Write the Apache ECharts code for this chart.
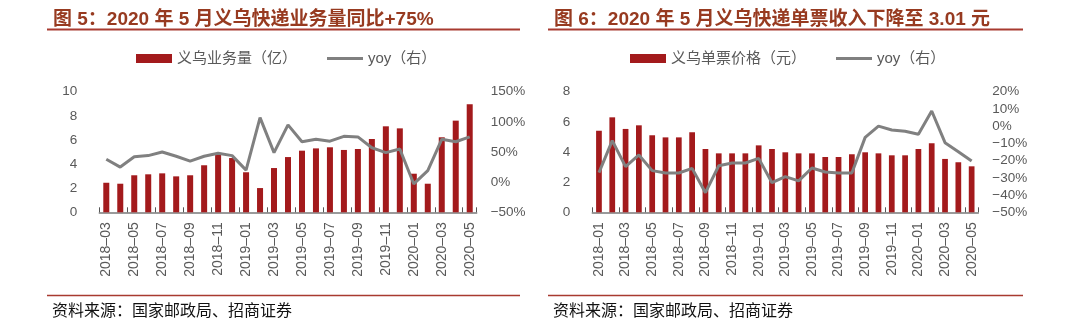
<!DOCTYPE html>
<html>
<head>
<meta charset="utf-8">
<script src="https://cdn.jsdelivr.net/npm/echarts@6/dist/echarts.min.js"></script>
<style>
html,body{margin:0;padding:0;background:#fff;}
#c{width:1080px;height:326px;}
</style>
</head>
<body>
<div id="c"></div>
<script>
// ---- Chart 5 data ----
const monthsA = ['2018-03','2018-04','2018-05','2018-06','2018-07','2018-08','2018-09','2018-10','2018-11','2018-12',
  '2019-01','2019-02','2019-03','2019-04','2019-05','2019-06','2019-07','2019-08','2019-09','2019-10','2019-11','2019-12',
  '2020-01','2020-02','2020-03','2020-04','2020-05'];
const volume = [2.45,2.37,3.07,3.15,3.23,2.98,3.07,3.9,4.75,4.5,
  3.32,2.01,3.67,4.58,5.11,5.3,5.39,5.17,5.25,6.08,7.13,6.96,
  3.2,2.37,6.22,7.6,8.96];
const volumeYoy = [38,25,42,44,50,43,35,43,48,44,
  20,107,49,95,67,71,68,76,75,57,49,55,
  -3,19,71,67,75];
const titleA = '图 5：2020 年 5 月义乌快递业务量同比+75%';
const legendA = ['义乌业务量（亿）','yoy（右）'];

// ---- Chart 6 data ----
const monthsB = ['2018-01','2018-02','2018-03','2018-04','2018-05','2018-06','2018-07','2018-08','2018-09','2018-10','2018-11','2018-12',
  '2019-01','2019-02','2019-03','2019-04','2019-05','2019-06','2019-07','2019-08','2019-09','2019-10','2019-11','2019-12',
  '2020-01','2020-02','2020-03','2020-04','2020-05'];
const price = [5.41,6.3,5.53,5.77,5.11,4.97,4.97,5.31,4.2,3.91,3.91,3.91,
  4.44,4.2,3.98,3.91,3.91,3.67,3.67,3.85,3.98,3.91,3.78,3.78,
  4.2,4.58,3.54,3.32,3.05];
const priceYoy = [-27,-8.4,-23.5,-16.7,-25.8,-27.2,-27.2,-24.5,-38.6,-23,-21.4,-21.4,
  -18.7,-32.8,-29.3,-31.8,-24.3,-26.6,-27.2,-27.2,-6.5,0,-2.2,-3,
  -4.7,8.8,-9.6,-14.8,-20.2];
const titleB = '图 6：2020 年 5 月义乌快递单票收入下降至 3.01 元';
const legendB = ['义乌单票价格（元）','yoy（右）'];
const sourceText = '资料来源：国家邮政局、招商证券';

const RED = '#A31A1C';
const GREY = '#808080';
const LAB = '#595959';
const TITLE_C = '#973A20';
const LINE_C = '#A83A30';
const FONT = '"Liberation Sans", "Noto Sans CJK SC", sans-serif';
const LINE_ICON = 'path://M0,0 L36,0 L36,3 L0,3 Z';

const dash = v => String(v).replace(/-/g, '\u2212');

function xAxis(gi, data) {
  return {
    type: 'category', gridIndex: gi, data: data, boundaryGap: true,
    axisLine: {lineStyle: {color: '#7a7a7a', width: 1.5}},
    axisTick: {show: true, inside: true, length: 5, interval: 1, lineStyle: {color: '#555'}},
    axisLabel: {interval: 1, rotate: 90, margin: 10, color: LAB, fontSize: 14, fontFamily: FONT,
      formatter: v => v.replace('-', '\u2013')},
    splitLine: {show: false}
  };
}
function yAxis(gi, pos, min, max, interval, pct) {
  return {
    type: 'value', gridIndex: gi, position: pos, min: min, max: max, interval: interval,
    axisLine: {show: false}, axisTick: {show: false}, splitLine: {show: false},
    axisLabel: {color: LAB, fontSize: 13.5, fontFamily: FONT, margin: pos === 'left' ? 22 : 14,
      formatter: v => dash(v) + (pct ? '%' : '')}
  };
}

const chart = echarts.init(document.getElementById('c'), null, {renderer: 'canvas'});
chart.setOption({
  animation: false,
  backgroundColor: '#fff',
  title: [
    {text: titleA, left: 48, top: 5, textStyle: {color: TITLE_C, fontSize: 19, fontWeight: 'bold', fontFamily: FONT}},
    {text: titleB, left: 549, top: 5, textStyle: {color: TITLE_C, fontSize: 19, fontWeight: 'bold', fontFamily: FONT}},
    {text: sourceText, left: 47, top: 297, textStyle: {color: '#111', fontSize: 16, fontWeight: 'normal', fontFamily: '"Noto Sans CJK SC", sans-serif'}},
    {text: sourceText, left: 548, top: 297, textStyle: {color: '#111', fontSize: 16, fontWeight: 'normal', fontFamily: '"Noto Sans CJK SC", sans-serif'}}
  ],
  legend: [
    {left: 131, top: 46, itemWidth: 36, itemHeight: 9, itemGap: 30,
      textStyle: {color: LAB, fontSize: 15, fontFamily: FONT},
      data: [{name: legendA[0], icon: 'rect'}, {name: legendA[1], icon: LINE_ICON}]},
    {left: 625, top: 46, itemWidth: 36, itemHeight: 9, itemGap: 30,
      textStyle: {color: LAB, fontSize: 15, fontFamily: FONT},
      data: [{name: legendB[0], icon: 'rect'}, {name: 'yoy（右） ', icon: LINE_ICON}]}
  ],
  grid: [
    {left: 99.3, right: 1080 - 476.7, top: 91.7, bottom: 326 - 212.3},
    {left: 592.3, right: 1080 - 978.3, top: 91.7, bottom: 326 - 212.3}
  ],
  xAxis: [xAxis(0, monthsA), xAxis(1, monthsB)],
  yAxis: [
    yAxis(0, 'left', 0, 10, 2, false),
    yAxis(0, 'right', -50, 150, 50, true),
    yAxis(1, 'left', 0, 8, 2, false),
    yAxis(1, 'right', -50, 20, 10, true)
  ],
  series: [
    {name: legendA[0], type: 'bar', xAxisIndex: 0, yAxisIndex: 0, data: volume, barWidth: '43%', itemStyle: {color: RED}},
    {name: legendA[1], type: 'line', xAxisIndex: 0, yAxisIndex: 1, data: volumeYoy, symbol: 'none',
      lineStyle: {color: GREY, width: 3}, itemStyle: {color: GREY}, z: 5},
    {name: legendB[0], type: 'bar', xAxisIndex: 1, yAxisIndex: 2, data: price, barWidth: '43%', itemStyle: {color: RED}},
    {name: 'yoy（右） ', type: 'line', xAxisIndex: 1, yAxisIndex: 3, data: priceYoy, symbol: 'none',
      lineStyle: {color: GREY, width: 3}, itemStyle: {color: GREY}, z: 5}
  ],
  graphic: [
    {type: 'line', shape: {x1: 47, y1: 29.5, x2: 520, y2: 29.5}, style: {stroke: LINE_C, lineWidth: 2}},
    {type: 'line', shape: {x1: 548, y1: 29.5, x2: 1023, y2: 29.5}, style: {stroke: LINE_C, lineWidth: 2}},
    {type: 'line', shape: {x1: 47, y1: 295.5, x2: 520, y2: 295.5}, style: {stroke: LINE_C, lineWidth: 1.5}},
    {type: 'line', shape: {x1: 548, y1: 295.5, x2: 1023, y2: 295.5}, style: {stroke: LINE_C, lineWidth: 1.5}}
  ]
});
</script>
</body>
</html>
